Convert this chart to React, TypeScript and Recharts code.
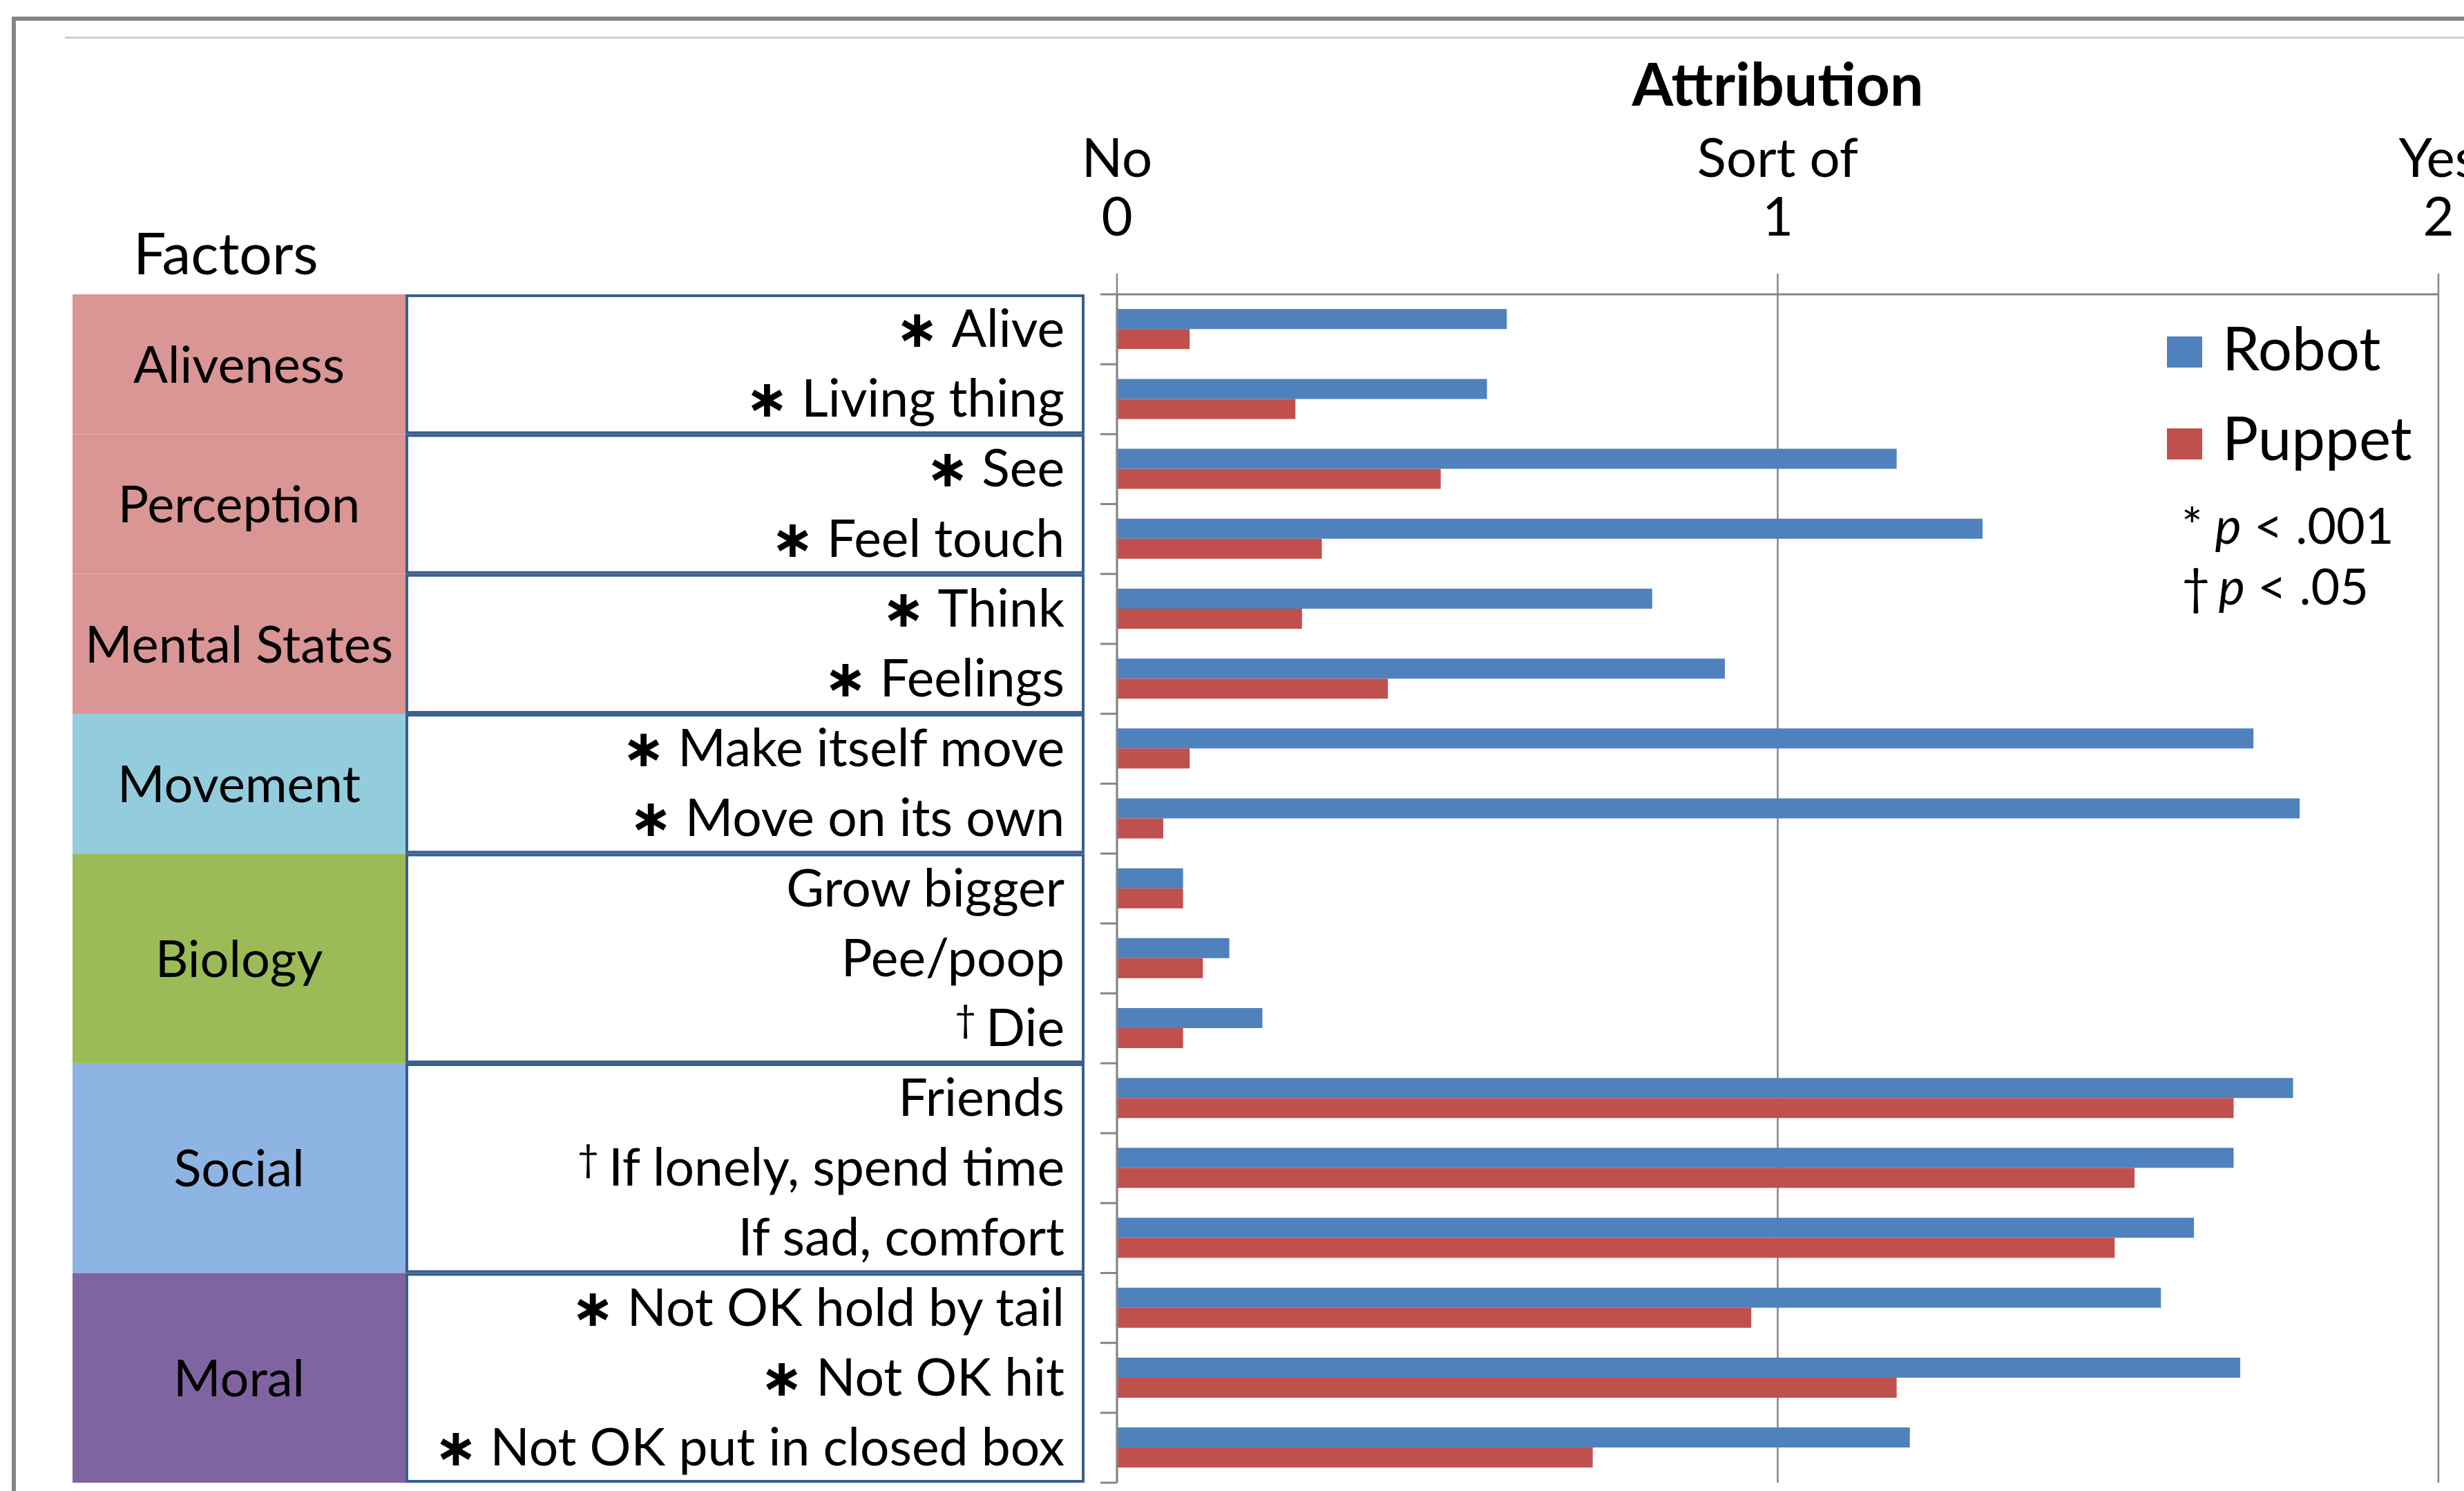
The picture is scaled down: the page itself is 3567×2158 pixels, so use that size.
import React from 'react';
import { BarChart, Bar, XAxis, YAxis, CartesianGrid, Legend } from 'recharts';

// items as listed top to bottom
const categories = [
  'Alive', 'Living thing', 'See', 'Feel touch', 'Think', 'Feelings',
  'Make itself move', 'Move on its own', 'Grow bigger', 'Pee/poop', 'Die',
  'Friends', 'If lonely, spend time', 'If sad, comfort',
  'Not OK hold by tail', 'Not OK hit', 'Not OK put in closed box',
];
const significance = ['*', '*', '*', '*', '*', '*', '*', '*', '', '', '†', '', '†', '', '*', '*', '*'];
const robot = [0.59, 0.56, 1.18, 1.31, 0.81, 0.92, 1.72, 1.79, 0.1, 0.17, 0.22, 1.78, 1.69, 1.63, 1.58, 1.7, 1.2];
const puppet = [0.11, 0.27, 0.49, 0.31, 0.28, 0.41, 0.11, 0.07, 0.1, 0.13, 0.1, 1.69, 1.54, 1.51, 0.96, 1.18, 0.72];
const seriesNames = ['Robot', 'Puppet'];

const factors = ['Aliveness', 'Perception', 'Mental States', 'Movement', 'Biology', 'Social', 'Moral'];
const factorSizes = [2, 2, 2, 2, 3, 3, 3];

const tickValues = [0, 1, 2];
const tickWords = ['No', 'Sort of', 'Yes'];

const factorColors = ['#D99694', '#D99694', '#D99694', '#93CDDD', '#9BBB59', '#8EB4E3', '#8064A2'];

const W = 3567;
const H = 2158;
const PLOT_LEFT = 1617;
const PLOT_TOP = 426;
const PLOT_RIGHT = 3530;
const PLOT_BOTTOM = 2146;
const FONT = 'Lato, "DejaVu Sans", sans-serif';
const GREY = '#868686';
const BOX_BLUE = '#3A5F8B';
const LABEL_SIZE = 75;

const data = categories.map((name, i) => ({ name, robot: robot[i], puppet: puppet[i] }));
const groupStarts = factorSizes.map((_, i) => factorSizes.slice(0, i).reduce((a, b) => a + b, 0));

const CategoryTick = (props: any) => {
  const { y, index, payload } = props;
  const band = (PLOT_BOTTOM - PLOT_TOP) / categories.length;
  const top = y - band / 2;
  const g = groupStarts.indexOf(index);
  const mark = significance[index];
  const h = g >= 0 ? band * factorSizes[g] : 0;
  const base = y + LABEL_SIZE * 0.34;
  return (
    <g>
      {g >= 0 && (
        <g>
          <rect x={105} y={top} width={482} height={h} fill={factorColors[g]} />
          <rect x={589} y={top + 2} width={979} height={h - 4} fill="#fff" stroke={BOX_BLUE} strokeWidth={4} />
          <text x={346} y={top + h / 2 + 74 * 0.36} textAnchor="middle" fontFamily={FONT} fontSize={74} fill="#000">
            {factors[g]}
          </text>
        </g>
      )}
      <line x1={1593} x2={PLOT_LEFT} y1={top} y2={top} stroke={GREY} strokeWidth={3} />
      {index === categories.length - 1 && (
        <line x1={1593} x2={PLOT_LEFT} y1={top + band} y2={top + band} stroke={GREY} strokeWidth={3} />
      )}
      <text x={1541} y={base} textAnchor="end" fontFamily={FONT} fontSize={LABEL_SIZE} fill="#000">
        {mark === '*' && <tspan fontWeight="bold">{'\u2217 '}</tspan>}
        {mark === '†' && <tspan fontSize={54} dy={-20}>{'† '}</tspan>}
        {mark === '†' ? <tspan dy={20}>{payload.value}</tspan> : payload.value}
      </text>
    </g>
  );
};

const ValueTick = (props: any) => {
  const { x, payload } = props;
  const word = tickWords[tickValues.indexOf(payload.value)];
  return (
    <g>
      <text x={x} y={PLOT_TOP - 170} textAnchor="middle" fontFamily={FONT} fontSize={78} fill="#000">{word}</text>
      <text x={x} y={PLOT_TOP - 85} textAnchor="middle" fontFamily={FONT} fontSize={78} fill="#000">{payload.value}</text>
    </g>
  );
};

const KeyBox = (props: any) => {
  const { payload = [] } = props;
  const items = seriesNames.map((n) => payload.find((p: any) => p.value === n)).filter(Boolean);
  return (
    <svg width={430} height={430} style={{ display: 'block', overflow: 'visible' }}>
      {items.map((p: any, i: number) => (
        <g key={p.value}>
          <rect x={0} y={17 + i * 133} width={51} height={45} fill={p.color} />
          <text x={80} y={66 + i * 130} fontFamily={FONT} fontSize={87} fill="#000">{p.value}</text>
        </g>
      ))}
      <text x={21} y={317} fontFamily={FONT} fontSize={72} fill="#000">
        <tspan>*</tspan>
        <tspan dx={18} fontStyle="italic">p</tspan>
        <tspan> &lt; .001</tspan>
      </text>
      <text x={21} y={405} fontFamily={FONT} fontSize={72} fill="#000">
        <tspan>†</tspan>
        <tspan dx={12} fontStyle="italic">p</tspan>
        <tspan> &lt; .05</tspan>
      </text>
    </svg>
  );
};

export default function App() {
  return (
    <div style={{ position: 'absolute', left: 0, top: 0, width: W, height: H, overflow: 'hidden', background: '#fff', fontFamily: FONT }}>
      <div style={{ position: 'absolute', left: 17, top: 24, width: W, height: H, border: `6px solid ${GREY}` }} />
      <div style={{ position: 'absolute', left: 94, top: 53, width: W, height: 3, background: '#D0D0D0' }} />
      <div style={{ position: 'absolute', left: 193, top: 323, fontSize: 84, lineHeight: 1, color: '#000' }}>Factors</div>
      <div style={{ position: 'absolute', left: 0, top: 0 }}>
        <BarChart
          width={W}
          height={H}
          data={data}
          layout="vertical"
          margin={{ top: 0, left: 0, right: W - PLOT_RIGHT, bottom: H - PLOT_BOTTOM }}
          barCategoryGap="21%"
          barGap={0}
        >
          <CartesianGrid horizontal={false} stroke={GREY} strokeWidth={2.5} />
          <XAxis
            type="number"
            orientation="top"
            domain={[0, 2]}
            ticks={tickValues}
            interval={0}
            height={PLOT_TOP}
            tickSize={30}
            axisLine={{ stroke: GREY, strokeWidth: 3 }}
            tickLine={{ stroke: GREY, strokeWidth: 2.5 }}
            tick={(p: any) => <ValueTick {...p} />}
            label={{
              value: 'Attribution',
              position: 'insideTop',
              offset: 92,
              fontFamily: FONT,
              fontSize: 86,
              fontWeight: 'bold',
              fill: '#000',
            }}
          />
          <YAxis
            type="category"
            dataKey="name"
            width={PLOT_LEFT}
            interval={0}
            axisLine={{ stroke: GREY, strokeWidth: 3 }}
            tickLine={false}
            tick={(p: any) => <CategoryTick {...p} />}
          />
          <Legend
            layout="vertical"
            align="center"
            verticalAlign="middle"
            wrapperStyle={{ left: 3137, top: 470, width: 430, height: 430 }}
            content={(p: any) => <KeyBox {...p} />}
          />
          <Bar dataKey="robot" name="Robot" fill="#4F81BD" isAnimationActive={false} />
          <Bar dataKey="puppet" name="Puppet" fill="#C0504D" isAnimationActive={false} />
        </BarChart>
      </div>
    </div>
  );
}
